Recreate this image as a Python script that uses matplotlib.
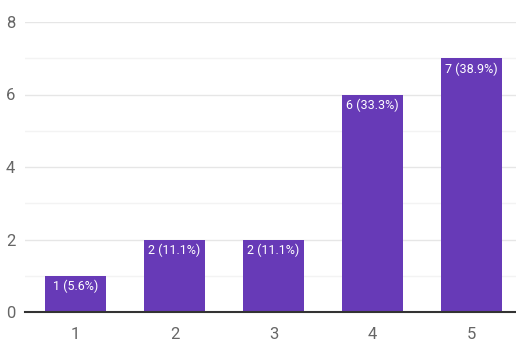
import matplotlib
matplotlib.use("Agg")
import matplotlib.pyplot as plt
from matplotlib import font_manager

categories = ["1", "2", "3", "4", "5"]
counts = [1, 2, 2, 6, 7]
labels = ["1 (5.6%)", "2 (11.1%)", "2 (11.1%)", "6 (33.3%)", "7 (38.9%)"]
yticks = [0, 2, 4, 6, 8]

names = {f.name for f in font_manager.fontManager.ttflist}
font = "Roboto" if "Roboto" in names else "DejaVu Sans"

W, H = 516, 343
fig = plt.figure(figsize=(W / 100, H / 100), dpi=100)
left = 25 / W
bottom = (H - 312) / H
height = 290 / H
width = 495 / W
ax = fig.add_axes([left, bottom, width, height])

x = list(range(1, len(categories) + 1))
ax.bar(x, counts, width=0.62, color="#673ab7", zorder=3)
for xi, c, lab in zip(x, counts, labels):
    ax.text(xi, c - 0.12, lab, ha="center", va="top", color="white",
            fontsize=9, family=font, zorder=4)

ax.set_xlim(0.49, 5.49)
ax.set_ylim(0, 8)
ax.set_yticks(yticks)
ax.set_yticklabels([str(v) for v in yticks])
ax.set_xticks(x)
ax.set_xticklabels(categories)
for v in range(1, 9):
    ax.axhline(v, color="#e6e6e6" if v % 2 == 0 else "#f3f3f3", lw=1.0, zorder=1)
ax.axhline(0, color="#333333", lw=1.5, zorder=5, clip_on=False)

for s in ax.spines.values():
    s.set_visible(False)
ax.tick_params(axis="both", length=0, labelcolor="#666666", labelsize=12)
ax.tick_params(axis="y", pad=7)
ax.tick_params(axis="x", pad=11)
for t in ax.get_xticklabels() + ax.get_yticklabels():
    t.set_family(font)

fig.savefig("out.png", dpi=100)
